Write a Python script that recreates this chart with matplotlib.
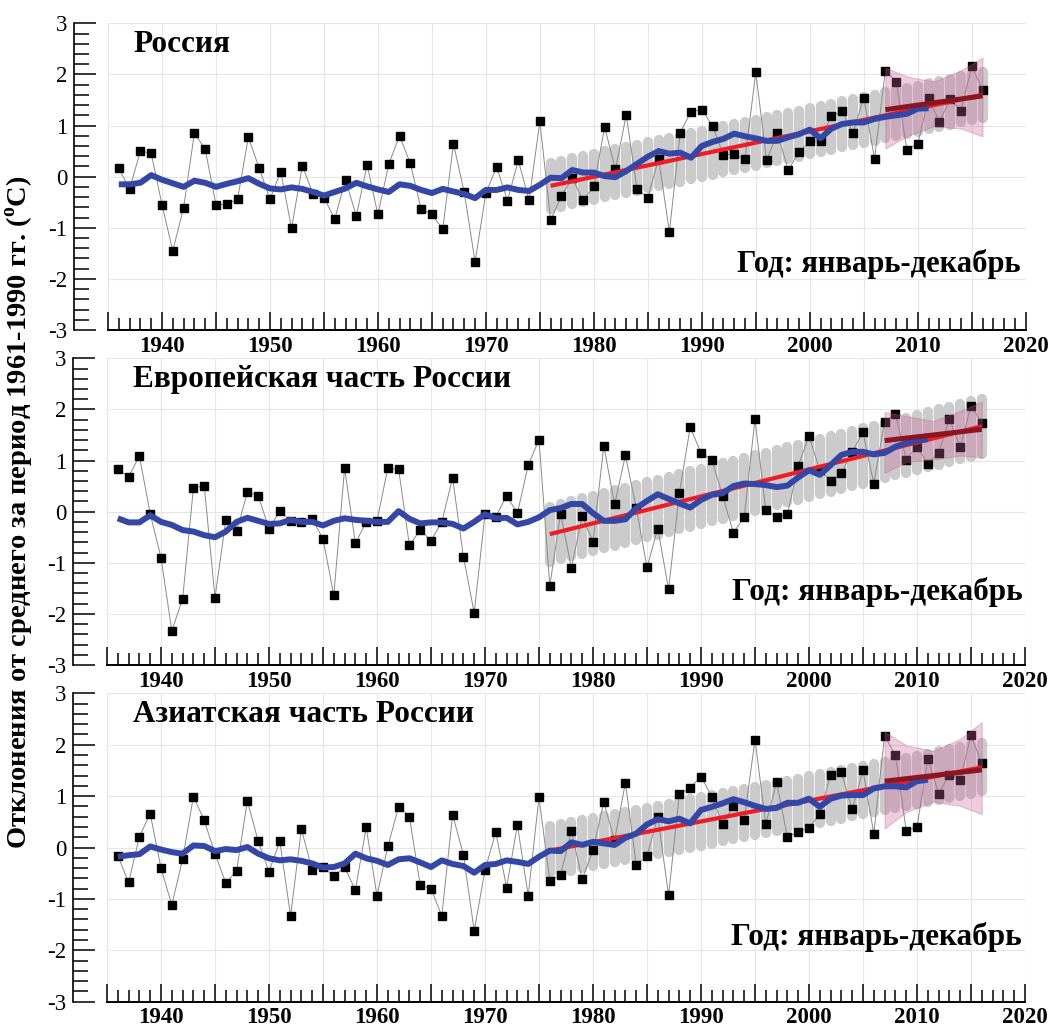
import numpy as np
import matplotlib
matplotlib.use('Agg')
import matplotlib.pyplot as plt
from matplotlib.ticker import MultipleLocator
from matplotlib.collections import LineCollection

plt.rcParams['font.family'] = ['Liberation Serif', 'DejaVu Serif']
plt.rcParams['axes.unicode_minus'] = False
plt.rcParams['mathtext.fontset'] = 'custom'
plt.rcParams['mathtext.rm'] = 'Liberation Serif'
plt.rcParams['mathtext.bf'] = 'Liberation Serif:bold'

# ---------------- data ----------------
first_year, last_year = 1936, 2016
smooth_last_year = 2011

russia_vals = [0.16, -0.24, 0.50, 0.46, -0.55, -1.45, -0.61, 0.85, 0.54, -0.55,
               -0.54, -0.44, 0.77, 0.17, -0.44, 0.10, -1.01, 0.21, -0.34, -0.41,
               -0.83, -0.06, -0.77, 0.23, -0.74, 0.24, 0.80, 0.26, -0.63, -0.74,
               -1.03, 0.64, -0.31, -1.67, -0.32, 0.19, -0.47, 0.32, -0.46, 1.08,
               -0.85, -0.38, -0.03, -0.46, -0.19, 0.97, 0.14, 1.21, -0.24, -0.41,
               0.35, -1.08, 0.86, 1.27, 1.31, 0.99, 0.42, 0.45, 0.34, 2.04,
               0.32, 0.86, 0.13, 0.48, 0.69, 0.70, 1.19, 1.28, 0.86, 1.54,
               0.35, 2.07, 1.86, 0.52, 0.64, 1.54, 1.07, 1.52, 1.28, 2.16, 1.70]
russia_smooth = [-0.15, -0.15, -0.12, 0.03, -0.06, -0.13, -0.20, -0.08, -0.12, -0.20,
                 -0.14, -0.09, -0.03, -0.14, -0.23, -0.25, -0.21, -0.24, -0.30, -0.37,
                 -0.30, -0.23, -0.12, -0.19, -0.25, -0.30, -0.15, -0.18, -0.26, -0.32,
                 -0.24, -0.29, -0.34, -0.42, -0.26, -0.26, -0.21, -0.26, -0.28, -0.16,
                 -0.02, -0.03, 0.13, 0.08, 0.08, 0.01, -0.01, 0.11, 0.25, 0.39,
                 0.50, 0.45, 0.47, 0.37, 0.60, 0.68, 0.74, 0.84, 0.79, 0.75,
                 0.70, 0.70, 0.77, 0.83, 0.92, 0.75, 0.94, 1.03, 1.06, 1.06,
                 1.13, 1.17, 1.20, 1.23, 1.33, 1.34]

europe_vals = [0.83, 0.68, 1.09, -0.04, -0.90, -2.33, -1.71, 0.46, 0.51, -1.68,
               -0.17, -0.38, 0.38, 0.31, -0.33, 0.01, -0.18, -0.21, -0.15, -0.53,
               -1.64, 0.85, -0.62, -0.20, -0.18, 0.85, 0.83, -0.66, -0.36, -0.57,
               -0.20, 0.66, -0.88, -1.98, -0.05, -0.10, 0.31, -0.03, 0.91, 1.41,
               -1.45, -0.04, -1.10, -0.09, -0.59, 1.29, 0.14, 1.10, 0.08, -1.09,
               -0.33, -1.52, 0.37, 1.65, 1.15, 1.02, 0.31, -0.41, -0.11, 1.81,
               0.03, -0.11, -0.05, 0.90, 1.48, 0.81, 0.60, 0.75, 1.17, 1.55,
               0.55, 1.76, 1.92, 1.02, 1.27, 0.94, 1.15, 1.81, 1.26, 2.07, 1.74]
europe_smooth = [-0.13, -0.21, -0.21, -0.07, -0.20, -0.26, -0.36, -0.39, -0.46, -0.50,
                 -0.39, -0.20, -0.12, -0.18, -0.24, -0.23, -0.16, -0.20, -0.20, -0.27,
                 -0.18, -0.13, -0.16, -0.18, -0.20, -0.20, 0.01, -0.14, -0.23, -0.21,
                 -0.21, -0.24, -0.33, -0.20, -0.05, -0.13, -0.12, -0.25, -0.20, -0.11,
                 0.03, 0.07, 0.15, 0.15, -0.03, -0.18, -0.18, -0.15, 0.07, 0.21,
                 0.34, 0.25, 0.16, 0.08, 0.23, 0.33, 0.36, 0.50, 0.55, 0.54,
                 0.52, 0.48, 0.51, 0.67, 0.81, 0.72, 0.91, 1.11, 1.17, 1.17,
                 1.12, 1.15, 1.27, 1.34, 1.39, 1.42]

asia_vals = [-0.16, -0.68, 0.21, 0.66, -0.40, -1.12, -0.23, 0.99, 0.53, -0.12,
             -0.69, -0.45, 0.91, 0.12, -0.47, 0.12, -1.33, 0.36, -0.44, -0.38,
             -0.56, -0.38, -0.83, 0.39, -0.94, 0.02, 0.79, 0.60, -0.73, -0.80,
             -1.33, 0.64, -0.14, -1.62, -0.44, 0.30, -0.78, 0.44, -0.94, 0.98,
             -0.66, -0.53, 0.32, -0.62, -0.05, 0.88, 0.14, 1.26, -0.34, -0.16,
             0.59, -0.93, 1.04, 1.16, 1.38, 0.99, 0.45, 0.81, 0.53, 2.10,
             0.45, 1.27, 0.20, 0.31, 0.38, 0.66, 1.41, 1.46, 0.74, 1.50,
             0.27, 2.17, 1.80, 0.33, 0.40, 1.73, 1.05, 1.42, 1.32, 2.18, 1.64]
asia_smooth = [-0.18, -0.15, -0.13, 0.02, -0.04, -0.09, -0.12, 0.04, 0.03, -0.07,
               -0.03, -0.05, 0.01, -0.12, -0.21, -0.25, -0.23, -0.26, -0.31, -0.39,
               -0.38, -0.31, -0.12, -0.21, -0.26, -0.34, -0.23, -0.21, -0.29, -0.38,
               -0.25, -0.32, -0.36, -0.49, -0.34, -0.32, -0.25, -0.28, -0.32, -0.18,
               -0.06, -0.07, 0.10, 0.05, 0.11, 0.08, 0.05, 0.19, 0.27, 0.45,
               0.55, 0.51, 0.56, 0.47, 0.73, 0.79, 0.86, 0.94, 0.88, 0.81,
               0.75, 0.77, 0.87, 0.87, 0.95, 0.79, 0.95, 1.01, 1.02, 1.02,
               1.15, 1.19, 1.19, 1.17, 1.29, 1.32]

# linear trends 1976-2016 (end values) and 2007-2016
trend_years = [1976, 2016]
russia_trend = [-0.18, 1.60]
europe_trend = [-0.44, 1.67]
asia_trend = [-0.06, 1.56]

recent_years = [2007, 2016]
russia_recent = [1.31, 1.58]
europe_recent = [1.39, 1.61]
asia_recent = [1.29, 1.51]

# half-height of the grey confidence capsules
russia_cap = 0.45
europe_cap = 0.54
asia_cap = 0.47

# pink confidence band of the 2007-2016 trend
band_years = [2007, 2009, 2011.5, 2014, 2016]
russia_band_up = [2.13, 1.96, 1.86, 2.08, 2.33]
russia_band_lo = [0.55, 0.79, 0.99, 0.94, 0.79]
europe_band_up = [1.95, 1.87, 1.77, 1.97, 2.15]
europe_band_lo = [0.76, 0.97, 1.02, 1.10, 1.06]
asia_band_up = [2.25, 1.99, 1.88, 2.11, 2.44]
asia_band_lo = [0.37, 0.69, 0.89, 0.81, 0.65]

titles = ['Россия', 'Европейская часть России', 'Азиатская часть России']
season_label = 'Год: январь-декабрь'
ylabel = 'Отклонения от среднего за период 1961-1990 гг. ($^{\\mathbf{o}}$C)'
y_tick_values = [-3, -2, -1, 0, 1, 2, 3]
x_major_ticks = list(range(1935, 2021, 5))

# ---------------- figure ----------------
W, H = 1049, 1028
fig = plt.figure(figsize=(W / 100, H / 100), dpi=100)

panel_px = [(108, 23.3, 1025.7, 330.0),
            (107, 358.3, 1025.0, 665.0),
            (107, 693.3, 1025.0, 1001.7)]
season_pos = [(0.994, 0.215, 22), (0.998, 0.238, 22.5), (0.996, 0.21, 22.5)]

years = np.arange(first_year, last_year + 1)
smooth_years = np.arange(first_year, smooth_last_year + 1)

panels = [
    (russia_vals, russia_smooth, russia_trend, russia_recent, russia_cap, russia_band_up, russia_band_lo),
    (europe_vals, europe_smooth, europe_trend, europe_recent, europe_cap, europe_band_up, europe_band_lo),
    (asia_vals, asia_smooth, asia_trend, asia_recent, asia_cap, asia_band_up, asia_band_lo),
]

for i, (vals, smooth, trend, recent, cap, bup, blo) in enumerate(panels):
    x0, y0, x1, y1 = panel_px[i]
    ax = fig.add_axes([x0 / W, 1 - y1 / H, (x1 - x0) / W, (y1 - y0) / H])
    ax.set_xlim(1935, 2020)
    ax.set_ylim(-3, 3)

    cap_years = years[years >= trend_years[0]]
    centers = np.interp(cap_years, trend_years, trend)
    segs = [[(yr, c - cap), (yr, c + cap)] for yr, c in zip(cap_years, centers)]
    lc = LineCollection(segs, colors='#cbcbcb', linewidths=7.4, capstyle='round', zorder=1)
    ax.add_collection(lc)

    ax.plot(years, vals, color='#8a8a8a', lw=0.7, zorder=2)
    ax.plot(years, vals, 's', color='black', ms=5.2, zorder=2.5)

    ax.fill_between(band_years, blo, bup, facecolor='#c8649b', alpha=0.32,
                    edgecolor='#b85a8c', linewidth=0.8, zorder=3)

    ax.plot(trend_years, trend, color='#ee1c24', lw=3.0, solid_capstyle='butt', zorder=4)
    ax.plot(smooth_years, smooth, color='#3447a6', lw=4.3, solid_joinstyle='round',
            solid_capstyle='butt', zorder=5)
    ax.plot(recent_years, recent, color='#8c1524', lw=3.6, solid_capstyle='butt', zorder=6)

    # axes styling
    ax.spines['top'].set_visible(False)
    ax.spines['right'].set_visible(False)
    ax.spines['left'].set_position(('outward', 24.5))
    ax.spines['left'].set_linewidth(1.2)
    ax.spines['bottom'].set_linewidth(1.4)

    ax.set_xticks(x_major_ticks, [str(t) if t % 10 == 0 else '' for t in x_major_ticks],
                  fontweight='bold')
    ax.xaxis.set_minor_locator(MultipleLocator(1))
    ax.set_yticks(y_tick_values, [str(v) for v in y_tick_values])
    ax.yaxis.set_minor_locator(MultipleLocator(0.2))

    ax.tick_params(axis='x', which='major', direction='in', length=13, width=1.1,
                   pad=4, labelsize=16.5)
    ax.tick_params(axis='x', which='minor', direction='in', length=8.5, width=1.1)
    ax.tick_params(axis='y', which='major', direction='in', length=15.5, width=1.1,
                   pad=5, labelsize=16.5)
    ax.tick_params(axis='y', which='minor', direction='in', length=10.5, width=1.1)

    ax.grid(True, which='major', color='#e6e6e6', lw=0.8)
    ax.set_axisbelow(True)

    ax.text(0.028, 0.93, titles[i], transform=ax.transAxes, ha='left', va='center',
            fontsize=22.5, fontweight='bold')
    sx, sy, sfs = season_pos[i]
    ax.text(sx, sy, season_label, transform=ax.transAxes, ha='right', va='center',
            fontsize=sfs, fontweight='bold')

fig.text(20 / W, 1 - 512 / H, ylabel, rotation=90, ha='center', va='center',
         fontsize=20.5, fontweight='bold')

fig.savefig('out.png', dpi=100)
